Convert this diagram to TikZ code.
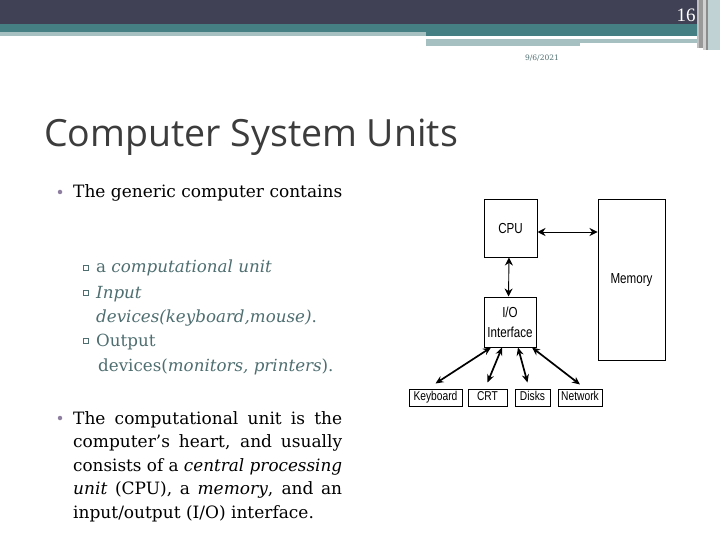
\documentclass[tikz,border=0pt]{standalone}
\usepackage{fontspec}
\usepackage{graphicx}
\setmainfont{DejaVu Serif}
\newfontfamily\titlefont{Open Sans}
\newfontfamily\diagfont[FakeStretch=0.8]{Liberation Sans}
\newfontfamily\numfont{Liberation Serif}
\usetikzlibrary{arrows.meta,calc}
\definecolor{hdark}{HTML}{404154}
\definecolor{hteal}{HTML}{467F83}
\definecolor{hlight}{HTML}{A6BFC1}
\definecolor{subtxt}{HTML}{4F6E70}
\definecolor{bulletc}{HTML}{8E7EA0}
\definecolor{titlec}{HTML}{3C3C3C}
\newsavebox{\jlinebox}
\newcommand{\jline}[1]{\sbox{\jlinebox}{#1}\ifdim\wd\jlinebox>269pt\resizebox{269pt}{\height}{#1}\else\makebox[269pt][s]{#1}\fi}
\tikzset{
  box/.style={draw=black, line width=1pt, fill=white, inner sep=0pt, font=\diagfont\fontsize{14.5}{15}\selectfont, align=center},
  smallbox/.style={box, font=\diagfont\fontsize{12.8}{14}\selectfont, text height=9.2pt, text depth=2.6pt},
  thinarrow/.style={line width=0.9pt, {Stealth[length=8pt,width=8pt]}-{Stealth[length=8pt,width=8pt]}},
  thickarrow/.style={line width=1.7pt, {Stealth[length=8pt,width=7pt]}-{Stealth[length=8pt,width=7pt]}},
  bodytxt/.style={anchor=base west, inner sep=0pt, font=\fontsize{17}{20}\selectfont},
  subtxtsty/.style={bodytxt, text=subtxt, font=\fontsize{16.7}{20}\selectfont},
  dotb/.style={fill=bulletc, circle, inner sep=0pt, minimum size=4.5pt},
  sqb/.style={draw=subtxt, fill=white, line width=0.6pt, inner sep=0pt, minimum size=4.5pt},
}
\begin{document}
\begin{tikzpicture}[x=1pt,y=-1pt]
\useasboundingbox (0,0) rectangle (720,540);
\fill[white] (0,0) rectangle (720,540);
% header
\fill[hdark] (0,0) rectangle (720,24);
\fill[hteal] (0,24) rectangle (720,32);
\fill[hteal] (426,32) rectangle (700,36);
\fill[hlight] (0,32) rectangle (426,36);
\fill[hlight] (426,39) rectangle (580,46);
\fill[hlight] (580,39) rectangle (700,43);
\fill[black!25] (697,0) rectangle (699,48);
\fill[black!40] (699,0) rectangle (703,48);
\fill[black!18] (703,0) rectangle (706,50);
\fill[black!45] (706,0) rectangle (708,50);
\fill[hlight!70] (708,0) rectangle (720,50);
\node[text=white, font=\numfont\fontsize{19}{20}\selectfont, inner sep=0pt] (pg) at (686,15) {16};
\node[text=subtxt, font=\fontsize{7.5}{8}\selectfont, inner sep=0pt] (date) at (542,58) {9/6/2021};
% title
\node[anchor=base west, inner sep=0pt, text=titlec, font=\titlefont\fontsize{37.5}{42}\selectfont] (title) at (44,147) {Computer System Units};
% first bullet
\node[dotb] (b1) at (60,192) {};
\node[bodytxt] (t1) at (73,198) {The generic computer contains};
\node[sqb] (s1) at (86,268) {};
\node[subtxtsty] (u1) at (96,272) {a \textit{computational unit}};
\node[sqb] (s2) at (86,293) {};
\node[subtxtsty] (u2) at (96,298) {\textit{Input}};
\node[subtxtsty] (u3) at (96,322) {\textit{devices(keyboard,mouse)}.};
\node[sqb] (s3) at (86,341) {};
\node[subtxtsty] (u4) at (96,346) {Output};
\node[subtxtsty] (u5) at (98,371) {devices(\textit{monitors, printers}).};
% second bullet
\node[dotb] (b2) at (60,418) {};
\node[bodytxt] (p1) at (73,424) {\jline{The computational unit is the}};
\node[bodytxt] (p2) at (73,447.5) {\jline{computer's heart, and usually}};
\node[bodytxt] (p3) at (73,471) {\jline{consists of a \textit{central processing}}};
\node[bodytxt] (p4) at (73,494.5) {\jline{\textit{unit} (CPU), a \textit{memory}, and an}};
\node[bodytxt] (p5) at (73,518) {input/output (I/O) interface.};
% diagram
\node[box, minimum width=53pt, minimum height=57pt] (cpu) at (510.5,228.5) {CPU};
\node[box, minimum width=67pt, minimum height=160pt] (mem) at (631.5,280) {Memory};
\node[box, minimum width=52pt, minimum height=50pt, font=\diagfont\fontsize{14.5}{20}\selectfont] (io) at (510,322) {I/O\\Interface};
\node[smallbox, minimum width=53pt, minimum height=17pt] (kb) at (435.5,397.5) {Keyboard};
\node[smallbox, minimum width=39pt, minimum height=17pt] (crt) at (487.5,397.5) {CRT};
\node[smallbox, minimum width=35pt, minimum height=17pt] (dk) at (532.5,397.5) {Disks};
\node[smallbox, minimum width=44pt, minimum height=17pt] (net) at (580,397.5) {Network};
\draw[thinarrow] ($(cpu.east)+(0,3.5)$) -- ($(cpu.east -| mem.west)+(0,3.5)$);
\draw[thinarrow] ($(cpu.south)+(-1.5,0)$) -- ($(io.north)+(-1.5,0)$);
\draw[thickarrow] ($(io.south)+(-19,0)$) -- ($(kb.north)+(0,-5)$);
\draw[thickarrow] ($(io.south)+(-8,0)$) -- ($(crt.north)+(0,-6)$);
\draw[thickarrow] ($(io.south)+(8,0)$) -- ($(dk.north)+(-5,-6)$);
\draw[thickarrow] ($(io.south)+(22,0)$) -- ($(net.north)+(0,-4)$);
\end{tikzpicture}
\end{document}
